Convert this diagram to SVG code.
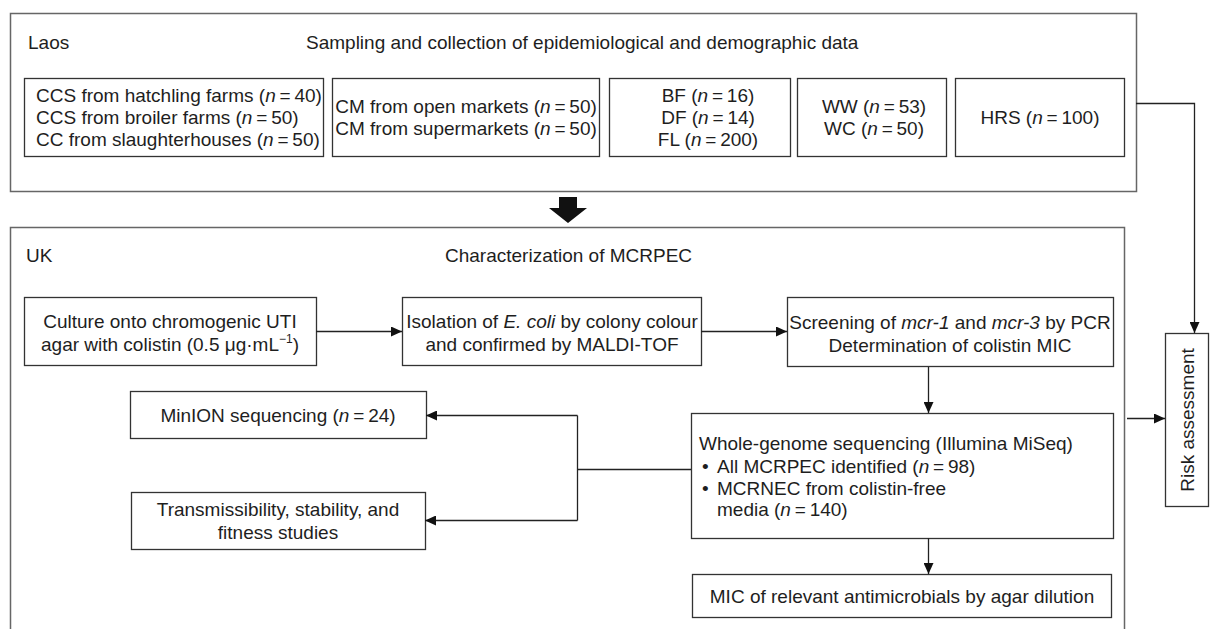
<svg xmlns="http://www.w3.org/2000/svg" width="1210" height="629" viewBox="0 0 1210 629">
<defs>
<marker id="ah" markerUnits="userSpaceOnUse" markerWidth="12" markerHeight="10" refX="11" refY="5" orient="auto">
<path d="M0,0 L11,5 L0,10 z" fill="#111"/>
</marker>
<style>
text{font-family:"Liberation Sans",Arial,Helvetica,sans-serif;font-size:19px;fill:#1e1e1e}
.c{text-anchor:middle}
.i{font-style:italic}
.outer{fill:none;stroke:#666;stroke-width:1.5}
.box{fill:#fff;stroke:#333;stroke-width:1.3}
.ln{fill:none;stroke:#222;stroke-width:1.3}
.ar{fill:none;stroke:#222;stroke-width:1.3;marker-end:url(#ah)}
</style>
</defs>
<rect width="1210" height="629" fill="#fff"/>

<g id="laos-panel">
<rect class="outer" x="10.5" y="13.5" width="1126" height="178"/>
<text x="28" y="49">Laos</text>
<text x="306" y="49">Sampling and collection of epidemiological and demographic data</text>
</g>

<g id="node-ccs">
<rect class="box" x="24.5" y="78.5" width="299" height="78"/>
<text x="36" y="102">CCS from hatchling farms (<tspan class="i">n</tspan>&#8201;=&#8201;40)</text>
<text x="36" y="124">CCS from broiler farms (<tspan class="i">n</tspan>&#8201;=&#8201;50)</text>
<text x="36" y="146">CC from slaughterhouses (<tspan class="i">n</tspan>&#8201;=&#8201;50)</text>
</g>
<g id="node-cm">
<rect class="box" x="332.5" y="78.5" width="267" height="78"/>
<text class="c" x="466" y="113">CM from open markets (<tspan class="i">n</tspan>&#8201;=&#8201;50)</text>
<text class="c" x="466" y="135">CM from supermarkets (<tspan class="i">n</tspan>&#8201;=&#8201;50)</text>
</g>
<g id="node-bf">
<rect class="box" x="609.5" y="78.5" width="181" height="78"/>
<text class="c" x="708" y="102">BF (<tspan class="i">n</tspan>&#8201;=&#8201;16)</text>
<text class="c" x="708" y="124">DF (<tspan class="i">n</tspan>&#8201;=&#8201;14)</text>
<text class="c" x="708" y="146">FL (<tspan class="i">n</tspan>&#8201;=&#8201;200)</text>
</g>
<g id="node-ww">
<rect class="box" x="797.5" y="78.5" width="149" height="78"/>
<text class="c" x="874" y="113">WW (<tspan class="i">n</tspan>&#8201;=&#8201;53)</text>
<text class="c" x="874" y="135">WC (<tspan class="i">n</tspan>&#8201;=&#8201;50)</text>
</g>
<g id="node-hrs">
<rect class="box" x="955.5" y="78.5" width="169" height="78"/>
<text class="c" x="1040" y="124">HRS (<tspan class="i">n</tspan>&#8201;=&#8201;100)</text>
</g>

<g id="big-arrow">
<path d="M559,197 H577 V208 H587 L568,223 L549,208 H559 Z" fill="#111"/>
</g>

<g id="uk-panel">
<rect class="outer" x="10.5" y="227.5" width="1114" height="420"/>
<text x="26" y="262">UK</text>
<text x="445" y="262">Characterization of MCRPEC</text>
</g>

<g id="node-culture">
<rect class="box" x="24.5" y="297.5" width="292" height="68"/>
<text class="c" x="170" y="328">Culture onto chromogenic UTI</text>
<text class="c" x="170" y="351">agar with colistin (0.5 μg·mL<tspan font-size="12" dy="-8">−1</tspan><tspan dy="8">)</tspan></text>
</g>
<g id="node-isolation">
<rect class="box" x="402.5" y="297.5" width="299" height="68"/>
<text class="c" x="552" y="328">Isolation of <tspan class="i">E. coli</tspan> by colony colour</text>
<text class="c" x="552" y="351">and confirmed by MALDI-TOF</text>
</g>
<g id="node-screening">
<rect class="box" x="787.5" y="297.5" width="326" height="69"/>
<text class="c" x="950" y="329">Screening of <tspan class="i">mcr-1</tspan> and <tspan class="i">mcr-3</tspan> by PCR</text>
<text class="c" x="950" y="352">Determination of colistin MIC</text>
</g>
<g id="node-minion">
<rect class="box" x="130.5" y="391.5" width="296" height="47"/>
<text class="c" x="278" y="422">MinION sequencing (<tspan class="i">n</tspan>&#8201;=&#8201;24)</text>
</g>
<g id="node-transmissibility">
<rect class="box" x="131.5" y="492.5" width="294" height="57"/>
<text class="c" x="278" y="516">Transmissibility, stability, and</text>
<text class="c" x="278" y="539">fitness studies</text>
</g>
<g id="node-wgs">
<rect class="box" x="691.5" y="413.5" width="422" height="125"/>
<text x="699" y="450">Whole-genome sequencing (Illumina MiSeq)</text>
<text x="702" y="473">•</text>
<text x="717" y="473">All MCRPEC identified (<tspan class="i">n</tspan>&#8201;=&#8201;98)</text>
<text x="702" y="495">•</text>
<text x="717" y="495">MCRNEC from colistin-free</text>
<text x="717" y="516">media (<tspan class="i">n</tspan>&#8201;=&#8201;140)</text>
</g>
<g id="node-mic">
<rect class="box" x="692.5" y="574.5" width="419" height="43"/>
<text class="c" x="902" y="603">MIC of relevant antimicrobials by agar dilution</text>
</g>
<g id="node-risk">
<rect class="box" x="1165.5" y="333.5" width="43" height="173"/>
<text class="c" transform="translate(1194,420) rotate(-90)">Risk assessment</text>
</g>

<g id="connectors">
<path class="ar" d="M316,331.5 H402"/>
<path class="ar" d="M701,331.5 H787"/>
<path class="ar" d="M928.5,367 V413"/>
<path class="ar" d="M928.5,538 V574"/>
<path class="ln" d="M691,469.5 H577.5"/>
<path class="ar" d="M577.5,415.5 H426"/>
<path class="ar" d="M577.5,520.5 H425"/>
<path class="ln" d="M577.5,415.5 V520.5"/>
<path class="ar" d="M1136,103.5 H1194.5 V333"/>
<path class="ar" d="M1127,418.5 H1165"/>
</g>
</svg>
